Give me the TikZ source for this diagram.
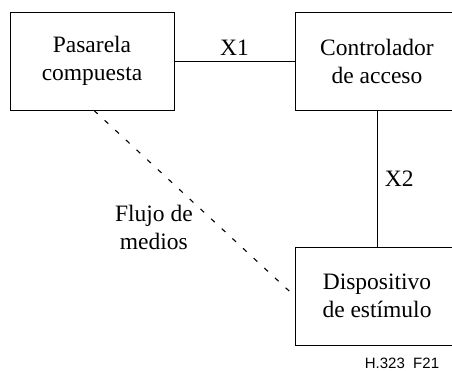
\documentclass[tikz,border=0pt]{standalone}
\usepackage{fontspec}
\setmainfont{Liberation Serif}
\newfontfamily\labelsans{Liberation Sans}
\usepackage{tikz}
\usetikzlibrary{positioning}

\begin{document}
\begin{tikzpicture}[x=1pt,y=1pt,
            node distance=285pt,
            line width=0.9pt,
            box/.style={draw,minimum width=164pt,minimum height=98pt,
                        align=center,inner sep=0pt},
            font=\fontsize{23.5}{28}\selectfont]

        \useasboundingbox (0,0) rectangle (452,371);

        \node[box] (pas)              at (92,310)  {Pasarela\\compuesta};
        \node[box] (ctl) [right of=pas]            {Controlador\\de acceso};
        \node[box] (dis) [below of=ctl, node distance=235pt] {Dispositivo\\de estímulo};

        \path (pas) edge node[above=2pt]  {X1}   (ctl)
              (ctl) edge node[right=4pt]  {X2}   (dis)
              ([xshift=2pt]pas.south) edge [line width=1.1pt, dash pattern=on 5pt off 9.5pt, shorten >=5pt]
                    node[anchor=north east, align=center, inner sep=1pt, pos=0.5]
                        {Flujo de\\medios} (dis.west);

        \node[font=\labelsans\fontsize{15}{18}\selectfont] (fig) at (402,8) {H.323\ \ F21};

    \end{tikzpicture}
\end{document}
